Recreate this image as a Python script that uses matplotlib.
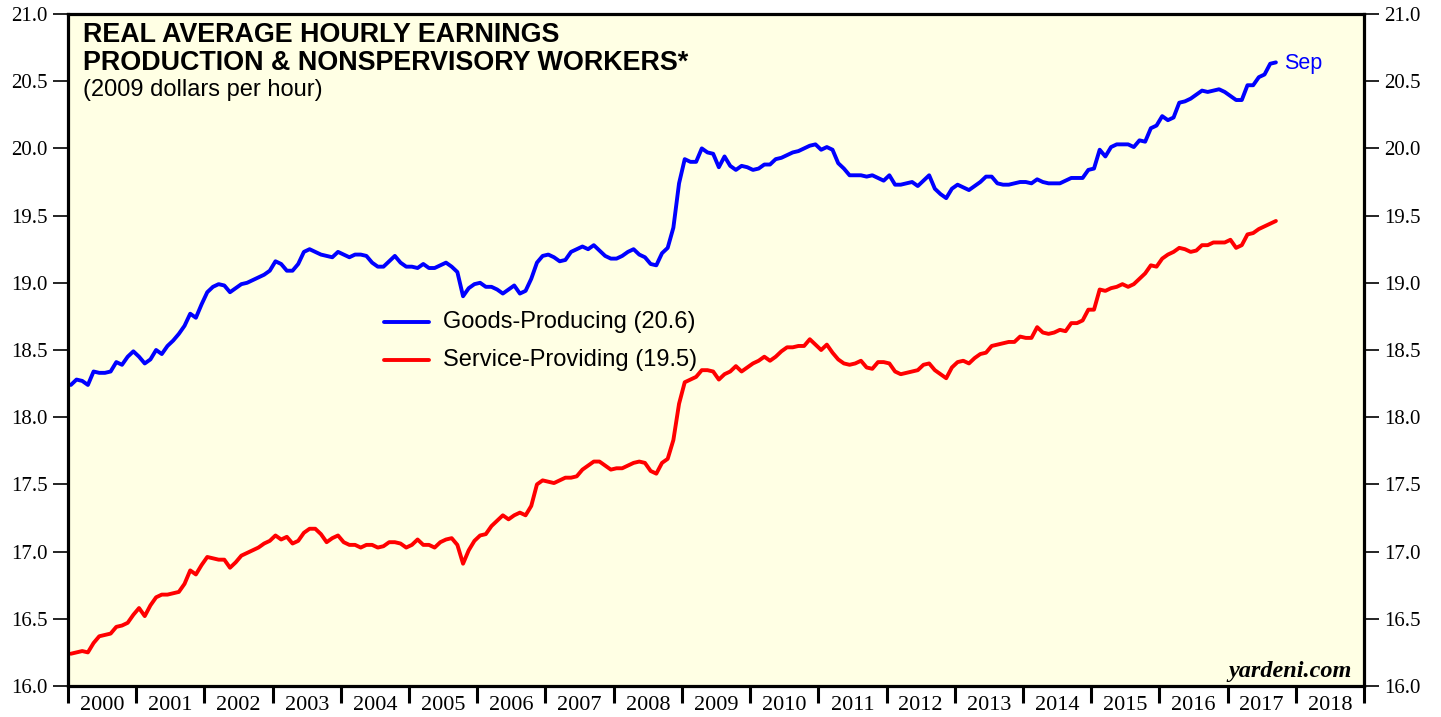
import matplotlib
matplotlib.use('Agg')
import matplotlib.pyplot as plt
import numpy as np
from matplotlib.ticker import FormatStrFormatter, FixedLocator, FixedFormatter

# Monthly values, Jan 2000 .. Sep 2017 (2009 dollars per hour)
goods = [
    18.24, 18.28, 18.27, 18.24, 18.34, 18.33, 18.33, 18.34, 18.41, 18.39, 18.45, 18.49,
    18.45, 18.40, 18.43, 18.50, 18.47, 18.53, 18.57, 18.62, 18.68, 18.77, 18.74, 18.84,
    18.93, 18.97, 18.99, 18.98, 18.93, 18.96, 18.99, 19.00, 19.02, 19.04, 19.06, 19.09,
    19.16, 19.14, 19.09, 19.09, 19.14, 19.23, 19.25, 19.23, 19.21, 19.20, 19.19, 19.23,
    19.21, 19.19, 19.21, 19.21, 19.20, 19.15, 19.12, 19.12, 19.16, 19.20, 19.15, 19.12,
    19.12, 19.11, 19.14, 19.11, 19.11, 19.13, 19.15, 19.12, 19.08, 18.90, 18.96, 18.99,
    19.00, 18.97, 18.97, 18.95, 18.92, 18.95, 18.98, 18.92, 18.94, 19.03, 19.15, 19.20,
    19.21, 19.19, 19.16, 19.17, 19.23, 19.25, 19.27, 19.25, 19.28, 19.24, 19.20, 19.18,
    19.18, 19.20, 19.23, 19.25, 19.21, 19.19, 19.14, 19.13, 19.22, 19.26, 19.41, 19.74,
    19.92, 19.90, 19.90, 20.00, 19.97, 19.96, 19.86, 19.94, 19.87, 19.84, 19.87, 19.86,
    19.84, 19.85, 19.88, 19.88, 19.92, 19.93, 19.95, 19.97, 19.98, 20.00, 20.02, 20.03,
    19.99, 20.01, 19.99, 19.89, 19.85, 19.80, 19.80, 19.80, 19.79, 19.80, 19.78, 19.76,
    19.80, 19.73, 19.73, 19.74, 19.75, 19.72, 19.76, 19.80, 19.70, 19.66, 19.63, 19.70,
    19.73, 19.71, 19.69, 19.72, 19.75, 19.79, 19.79, 19.74, 19.73, 19.73, 19.74, 19.75,
    19.75, 19.74, 19.77, 19.75, 19.74, 19.74, 19.74, 19.76, 19.78, 19.78, 19.78, 19.84,
    19.85, 19.99, 19.94, 20.01, 20.03, 20.03, 20.03, 20.01, 20.06, 20.05, 20.15, 20.17,
    20.24, 20.21, 20.23, 20.34, 20.35, 20.37, 20.40, 20.43, 20.42, 20.43, 20.44, 20.42,
    20.39, 20.36, 20.36, 20.47, 20.47, 20.53, 20.55, 20.63, 20.64,
]

services = [
    16.24, 16.25, 16.26, 16.25, 16.32, 16.37, 16.38, 16.39, 16.44, 16.45, 16.47, 16.53,
    16.58, 16.52, 16.60, 16.66, 16.68, 16.68, 16.69, 16.70, 16.76, 16.86, 16.83, 16.90,
    16.96, 16.95, 16.94, 16.94, 16.88, 16.92, 16.97, 16.99, 17.01, 17.03, 17.06, 17.08,
    17.12, 17.09, 17.11, 17.06, 17.08, 17.14, 17.17, 17.17, 17.13, 17.07, 17.10, 17.12,
    17.07, 17.05, 17.05, 17.03, 17.05, 17.05, 17.03, 17.04, 17.07, 17.07, 17.06, 17.03,
    17.05, 17.09, 17.05, 17.05, 17.03, 17.07, 17.09, 17.10, 17.05, 16.91, 17.01, 17.08,
    17.12, 17.13, 17.19, 17.23, 17.27, 17.24, 17.27, 17.29, 17.27, 17.34, 17.50, 17.53,
    17.52, 17.51, 17.53, 17.55, 17.55, 17.56, 17.61, 17.64, 17.67, 17.67, 17.64, 17.61,
    17.62, 17.62, 17.64, 17.66, 17.67, 17.66, 17.60, 17.58, 17.66, 17.69, 17.83, 18.10,
    18.26, 18.28, 18.30, 18.35, 18.35, 18.34, 18.28, 18.32, 18.34, 18.38, 18.34, 18.37,
    18.40, 18.42, 18.45, 18.42, 18.45, 18.49, 18.52, 18.52, 18.53, 18.53, 18.58, 18.54,
    18.50, 18.54, 18.48, 18.43, 18.40, 18.39, 18.40, 18.42, 18.37, 18.36, 18.41, 18.41,
    18.40, 18.34, 18.32, 18.33, 18.34, 18.35, 18.39, 18.40, 18.35, 18.32, 18.29, 18.37,
    18.41, 18.42, 18.40, 18.44, 18.47, 18.48, 18.53, 18.54, 18.55, 18.56, 18.56, 18.60,
    18.59, 18.59, 18.67, 18.63, 18.62, 18.63, 18.65, 18.64, 18.70, 18.70, 18.72, 18.80,
    18.80, 18.95, 18.94, 18.96, 18.97, 18.99, 18.97, 18.99, 19.03, 19.07, 19.13, 19.12,
    19.18, 19.21, 19.23, 19.26, 19.25, 19.23, 19.24, 19.28, 19.28, 19.30, 19.30, 19.30,
    19.32, 19.26, 19.28, 19.36, 19.37, 19.40, 19.42, 19.44, 19.46,
]

start_year = 2000
year_labels = [str(y) for y in range(2000, 2019)]
y_ticks = [16.0, 16.5, 17.0, 17.5, 18.0, 18.5, 19.0, 19.5, 20.0, 20.5, 21.0]
legend_labels = ["Goods-Producing (20.6)", "Service-Providing (19.5)"]
last_month = "Sep"

W, H = 1441, 717
fig = plt.figure(figsize=(W / 100, H / 100), dpi=100)
L, R, T, B = 68, 1364, 14, 686
ax = fig.add_axes([L / W, 1 - B / H, (R - L) / W, (B - T) / H])
ax.set_facecolor('#FFFFE4')

xg = start_year + (np.arange(len(goods)) + 0.5) / 12
xs = start_year + (np.arange(len(services)) + 0.5) / 12
lg, = ax.plot(xg, goods, color='#0000FF', lw=2.8, solid_joinstyle='round', solid_capstyle='round')
ls, = ax.plot(xs, services, color='#FF0000', lw=2.8, solid_joinstyle='round', solid_capstyle='round')

ax.set_xlim(2000, 2019)
ax.set_ylim(16, 21)

for s in ax.spines.values():
    s.set_linewidth(2.3)
    s.set_color('black')

serif = ['Liberation Serif', 'DejaVu Serif']
sans = ['Liberation Sans', 'DejaVu Sans']

ax.set_yticks(y_ticks)
ax.yaxis.set_major_formatter(FormatStrFormatter('%.1f'))
ax.tick_params(axis='y', which='major', direction='out', length=11, width=1.2,
               left=True, right=True, labelleft=True, labelright=True,
               labelsize=15, pad=3.5)
for lab in ax.get_yticklabels():
    lab.set_fontfamily(serif)

ax.xaxis.set_major_locator(FixedLocator(np.arange(2000, 2020)))
ax.xaxis.set_major_formatter(FixedFormatter([''] * 20))
ax.xaxis.set_minor_locator(FixedLocator(np.arange(2000.5, 2019.5)))
ax.xaxis.set_minor_formatter(FixedFormatter(year_labels))
ax.tick_params(axis='x', which='major', direction='out', length=12, width=2.2, bottom=True, top=False)
ax.tick_params(axis='x', which='minor', length=0, labelsize=16, pad=7)
for lab in ax.get_xticklabels(minor=True):
    lab.set_fontfamily(serif)

def px(xp, yp):
    return ((xp - L) / (R - L), (B - yp) / (B - T))

tx, ty = px(83, 42)
ax.text(tx, ty, "REAL AVERAGE HOURLY EARNINGS", transform=ax.transAxes, ha='left',
        va='baseline', fontsize=19.4, fontweight='bold', family=sans)
tx, ty = px(83, 69.5)
ax.text(tx, ty, "PRODUCTION & NONSPERVISORY WORKERS*", transform=ax.transAxes, ha='left',
        va='baseline', fontsize=19.4, fontweight='bold', family=sans)
tx, ty = px(83, 96)
ax.text(tx, ty, "(2009 dollars per hour)", transform=ax.transAxes, ha='left', va='baseline',
        fontsize=17, family=sans)

# legend drawn manually
for i, (line, lab) in enumerate(zip([lg, ls], legend_labels)):
    ly = [322, 360][i]
    x0, y0 = px(384, ly)
    x1, _ = px(429, ly)
    ax.plot([x0, x1], [y0, y0], transform=ax.transAxes, color=line.get_color(), lw=2.8,
            solid_capstyle='round')
    xt, _ = px(443, ly)
    ax.text(xt, y0, lab, transform=ax.transAxes, ha='left', va='center', fontsize=17,
            family=sans)

ax.annotate(last_month, xy=(xg[-1], goods[-1]), xytext=(6, -1), textcoords='offset points',
            ha='left', va='center', fontsize=15.5, color='#0000FF', family=sans)

tx, ty = px(1352, 677)
ax.text(tx, ty, "yardeni.com", transform=ax.transAxes, ha='right', va='baseline',
        fontsize=17.5, fontweight='bold', fontstyle='italic', family=serif)

fig.savefig('out.png', dpi=100, facecolor='white')
